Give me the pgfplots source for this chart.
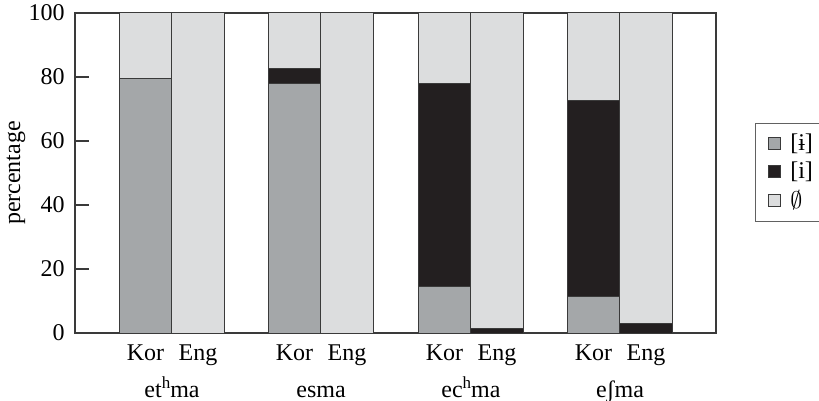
\documentclass[border=0pt]{standalone}
\usepackage{pgfplots}
\pgfplotsset{compat=1.18}
\usepackage{pgfplotstable}
\usepackage{fontspec}
\setmainfont{Liberation Serif}
\definecolor{cA}{HTML}{A4A7A9}
\definecolor{cB}{HTML}{231F20}
\definecolor{cC}{HTML}{DCDDDE}
\definecolor{edge}{HTML}{3A3A3A}
\newcommand{\sh}{\raisebox{0.75ex}{\fontsize{8.5}{10}\selectfont h}}
\pgfplotstableread{
x a b c
145.5 79.5 0 20.5
198 0 0 100
294.5 78 4.5 17.5
347 0 0 100
444.5 14.5 63.5 22
497 0 1.5 98.5
593.5 11.5 61 27.5
646 0 3 97
}\data
\begin{document}
\fontsize{12}{14}\selectfont
\begin{tikzpicture}
\useasboundingbox (-37.5pt,-34pt) rectangle (372pt,166.5pt);
\begin{axis}[
  at={(0,0)}, anchor=south west,
  scale only axis, width=320.5pt, height=160pt,
  xmin=75, xmax=716, ymin=0, ymax=100,
  ybar stacked, bar width=52.5,
  axis line style={draw=edge, line width=0.6pt},
  ytick={0,20,...,100},
  ytick pos=left, ytick style={draw=edge, line width=0.6pt},
  tick align=inside, major tick length=7pt,
  xtick={145.5,198,294.5,347,444.5,497,593.5,646},
  xticklabels={Kor,Eng,Kor,Eng,Kor,Eng,Kor,Eng},
  x tick style={draw=none},
  xticklabel style={anchor=base, yshift=-13.5pt},
  extra x ticks={172,321,471,620},
  extra x tick labels={et\sh ma,esma,ec\sh ma,eʃma},
  extra x tick style={tick label style={yshift=-18.5pt}, major tick length=0pt},
  /pgf/number format/assume math mode=true,
  yticklabel style={xshift=-1pt},
  ylabel={percentage}, ylabel style={yshift=-6.5pt},
  legend style={at={(340pt,105pt)}, anchor=north west, draw=edge!80, line width=0.5pt,
    inner xsep=6pt, inner ysep=3pt, row sep=0pt, cells={anchor=west},
    legend cell align=left, font=\fontsize{12}{14}\selectfont},
  legend image code/.code={\draw[#1, draw=edge, line width=0.4pt] (0pt,-3pt) rectangle (6pt,3pt);},
]
\addplot[fill=cA, draw=edge, line width=0.5pt] table[x=x,y=a]{\data};
\addlegendentry{\hspace{3pt}{[ɨ]}}
\addplot[fill=cB, draw=edge, line width=0.5pt] table[x=x,y=b]{\data};
\addlegendentry{\hspace{3pt}{[i]}}
\addplot[fill=cC, draw=edge, line width=0.5pt] table[x=x,y=c]{\data};
\addlegendentry{\hspace{3pt}$\emptyset$}
\end{axis}
\end{tikzpicture}
\end{document}
